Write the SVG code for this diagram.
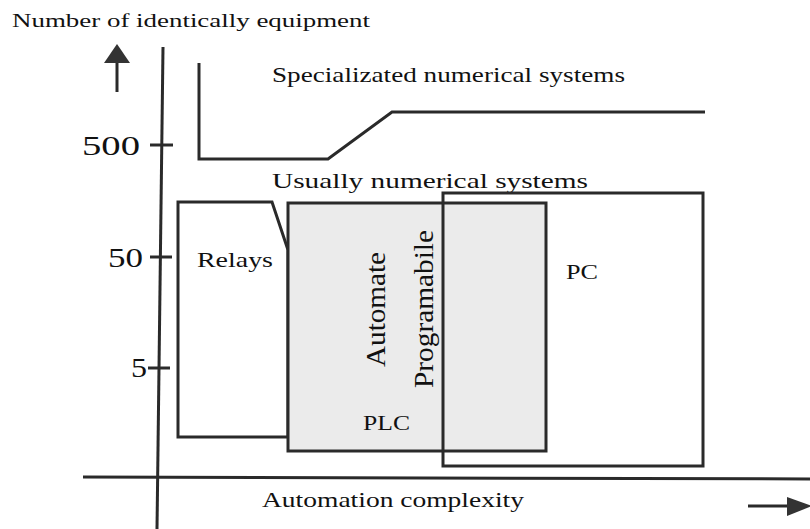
<svg xmlns="http://www.w3.org/2000/svg" width="810" height="529" viewBox="0 0 810 529">
<style>
.ln{fill:none;stroke:#2a2a2a;stroke-width:3;stroke-linejoin:miter}
.t{font-family:"Liberation Serif","Times New Roman",serif;fill:#111111}
</style>
<rect width="810" height="529" fill="#ffffff"/>
<g id="axes">
<text class="t" x="12" y="27" font-size="18" textLength="358" lengthAdjust="spacingAndGlyphs">Number of identically equipment</text>
<line class="ln" x1="117" y1="58" x2="117" y2="92"/>
<polygon points="117,44 130,63 104,63" fill="#333"/>
<line class="ln" x1="163" y1="47" x2="157" y2="529"/>
<line class="ln" x1="83" y1="477" x2="810" y2="479"/>
<line class="ln" x1="150" y1="145" x2="173" y2="145"/>
<line class="ln" x1="150" y1="257" x2="172" y2="257"/>
<line class="ln" x1="148" y1="368" x2="170" y2="368"/>
<text class="t" x="82" y="155" font-size="27" textLength="58" lengthAdjust="spacingAndGlyphs">500</text>
<text class="t" x="108" y="267" font-size="27" textLength="35" lengthAdjust="spacingAndGlyphs">50</text>
<text class="t" x="131" y="377" font-size="27" textLength="16" lengthAdjust="spacingAndGlyphs">5</text>
<text class="t" x="262" y="507" font-size="21" textLength="262" lengthAdjust="spacingAndGlyphs">Automation complexity</text>
<line class="ln" x1="748" y1="506" x2="792" y2="506"/>
<polygon points="787,497 812,506 787,516" fill="#333"/>
</g>
<g id="specialized">
<path class="ln" d="M199,63 V159 H328 L392,112 H705"/>
<text class="t" x="272" y="82" font-size="21" textLength="353" lengthAdjust="spacingAndGlyphs">Specializated numerical systems</text>
</g>
<g id="usual">
<text class="t" x="272" y="188" font-size="21" textLength="316" lengthAdjust="spacingAndGlyphs">Usually numerical systems</text>
</g>
<g id="relays">
<path class="ln" d="M178,202 H272 L288,250 V437 H178 Z" style="fill:#ffffff"/>
<text class="t" x="197" y="267" font-size="22" textLength="76" lengthAdjust="spacingAndGlyphs">Relays</text>
</g>
<g id="plc">
<rect class="ln" x="288" y="203" width="258" height="248" style="fill:#ebebeb"/>
<text class="t" x="363" y="430" font-size="22" textLength="47" lengthAdjust="spacingAndGlyphs">PLC</text>
<text class="t" font-size="28" transform="translate(385,367) rotate(-90)" textLength="115" lengthAdjust="spacingAndGlyphs">Automate</text>
<text class="t" font-size="28" transform="translate(433,388) rotate(-90)" textLength="158" lengthAdjust="spacingAndGlyphs">Programabile</text>
</g>
<g id="pc">
<rect class="ln" x="443" y="193" width="260" height="273"/>
<text class="t" x="566" y="279" font-size="21" textLength="32" lengthAdjust="spacingAndGlyphs">PC</text>
</g>
</svg>
